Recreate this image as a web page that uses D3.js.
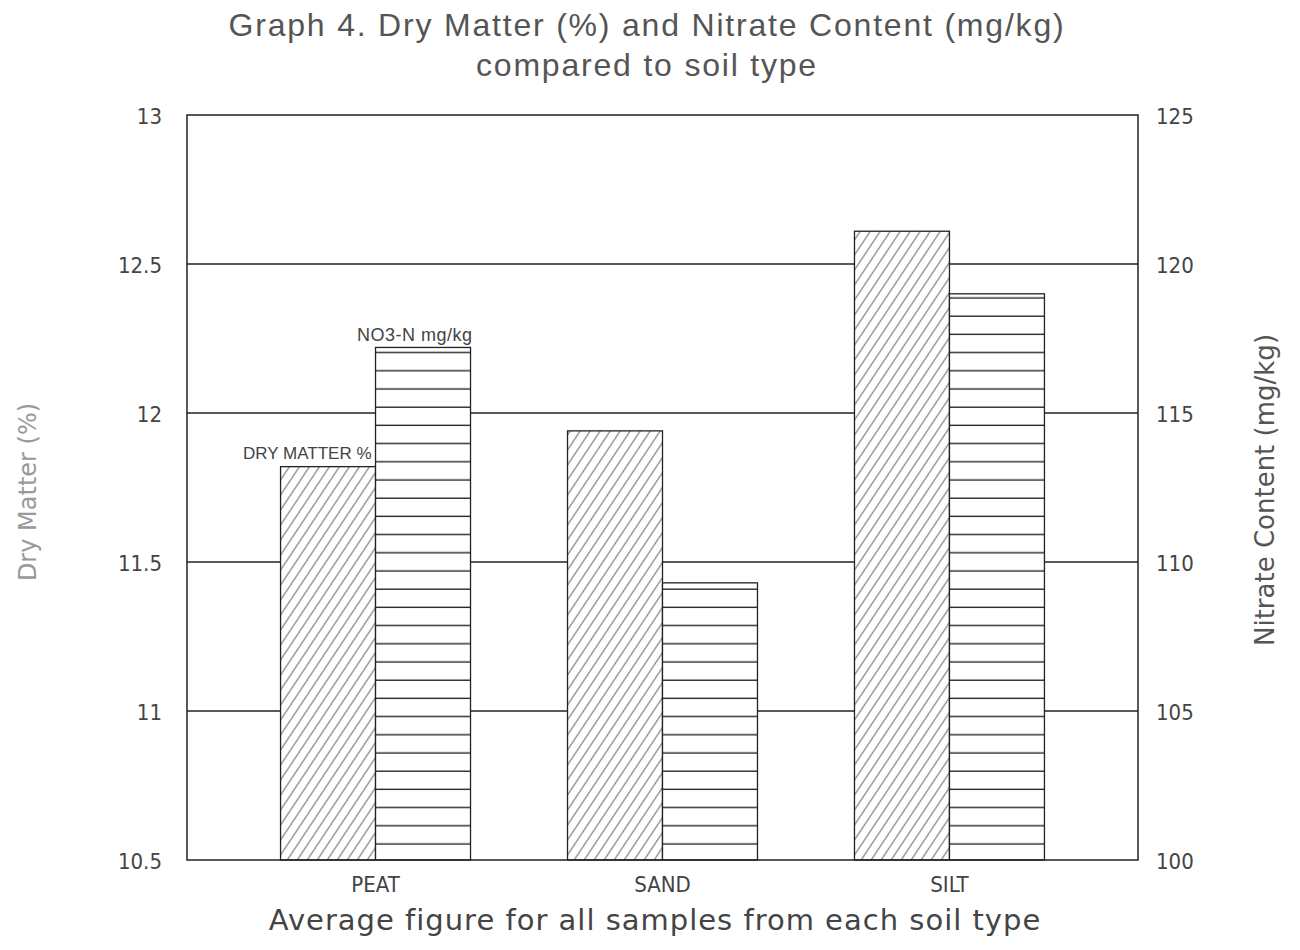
<!DOCTYPE html>
<meta charset="utf-8">
<script src="https://cdn.jsdelivr.net/npm/d3@7/dist/d3.min.js"></script>
<style>
body { margin: 0; background: #fff; }
svg text { font-family: "DejaVu Sans", sans-serif; fill: #444; }
.tick text { font-family: "Liberation Sans Narrow", "DejaVu Sans Condensed", sans-serif; }
</style>
<div id="chart"></div>
<script>
// data
const soils = ["PEAT", "SAND", "SILT"];
const dryMatter = [11.82, 11.94, 12.61];     // %
const nitrate = [117.2, 109.3, 119.0];       // mg/kg
const leftTicks = [10.5, 11, 11.5, 12, 12.5, 13];
const rightTicks = [100, 105, 110, 115, 120, 125];

const W = 1300, H = 950;
const plot = {left: 187, right: 1138, top: 115, bottom: 860};

const svg = d3.select("#chart").append("svg")
  .attr("width", W).attr("height", H);

// hatch patterns
const defs = svg.append("defs");
const diag = defs.append("pattern").attr("id", "diag")
  .attr("patternUnits", "userSpaceOnUse")
  .attr("width", 10).attr("height", 15);
diag.append("path").attr("d", "M-10,15 L0,0 M0,15 L10,0 M10,15 L20,0")
  .attr("stroke", "#333").attr("stroke-width", 0.9);

const horiz = defs.append("pattern").attr("id", "horiz")
  .attr("patternUnits", "userSpaceOnUse")
  .attr("x", 0).attr("y", plot.bottom)
  .attr("width", 20).attr("height", 18.2);
horiz.append("line").attr("x1", 0).attr("x2", 20).attr("y1", 2.2).attr("y2", 2.2)
  .attr("stroke", "#222").attr("stroke-width", 1.4);

// scales
const x = d3.scaleBand().domain(soils)
  .range([plot.left, plot.right]).paddingInner(0.338).paddingOuter(0.326);
const xSub = d3.scaleBand().domain(["dry", "no3"]).range([0, x.bandwidth()]);
const yL = d3.scaleLinear().domain([10.5, 13]).range([plot.bottom, plot.top]);
const yR = d3.scaleLinear().domain([100, 125]).range([plot.bottom, plot.top]);

// gridlines
svg.append("g").selectAll("line")
  .data(leftTicks.filter(d => d > 10.5 && d < 13))
  .join("line")
  .attr("x1", plot.left).attr("x2", plot.right)
  .attr("y1", d => yL(d)).attr("y2", d => yL(d))
  .attr("stroke", "#222").attr("stroke-width", 1.4);

// bars
const rows = soils.map((s, i) => ({soil: s, dry: dryMatter[i], no3: nitrate[i]}));
const g = svg.append("g").selectAll("g").data(rows).join("g")
  .attr("transform", d => `translate(${x(d.soil)},0)`);

g.append("rect")
  .attr("x", xSub("dry")).attr("width", xSub.bandwidth())
  .attr("y", d => yL(d.dry)).attr("height", d => plot.bottom - yL(d.dry))
  .attr("fill", "#fff");
g.append("rect")
  .attr("x", xSub("dry")).attr("width", xSub.bandwidth())
  .attr("y", d => yL(d.dry)).attr("height", d => plot.bottom - yL(d.dry))
  .attr("fill", "url(#diag)").attr("stroke", "#222").attr("stroke-width", 1.3);

g.append("rect")
  .attr("x", xSub("no3")).attr("width", xSub.bandwidth())
  .attr("y", d => yR(d.no3)).attr("height", d => plot.bottom - yR(d.no3))
  .attr("fill", "#fff");
g.append("rect")
  .attr("x", xSub("no3")).attr("width", xSub.bandwidth())
  .attr("y", d => yR(d.no3)).attr("height", d => plot.bottom - yR(d.no3))
  .attr("fill", "url(#horiz)").attr("stroke", "#222").attr("stroke-width", 1.3);

// frame
svg.append("rect")
  .attr("x", plot.left).attr("y", plot.top)
  .attr("width", plot.right - plot.left).attr("height", plot.bottom - plot.top)
  .attr("fill", "none").attr("stroke", "#222").attr("stroke-width", 1.5);

// axes
const axL = svg.append("g").attr("transform", `translate(${plot.left - 22},0)`)
  .call(d3.axisLeft(yL).tickValues(leftTicks).tickSize(0).tickFormat(d3.format("")));
const axR = svg.append("g").attr("transform", `translate(${plot.right + 15},0)`)
  .call(d3.axisRight(yR).tickValues(rightTicks).tickSize(0).tickFormat(d3.format("")));
[axL, axR].forEach(a => {
  a.select(".domain").remove();
  a.selectAll("text").attr("font-size", 22).attr("fill", "#444").attr("dy", "0.4em");
});

const axB = svg.append("g").attr("transform", `translate(0,${plot.bottom + 12})`)
  .call(d3.axisBottom(x).tickSize(0));
axB.select(".domain").remove();
axB.selectAll("text").attr("font-size", 22).attr("fill", "#444")
  .attr("dy", "0.75em");

// bar annotations on the PEAT pair
svg.append("text")
  .attr("x", x("PEAT") + xSub("dry") + xSub.bandwidth() - 4)
  .attr("y", yL(dryMatter[0]) - 8)
  .attr("text-anchor", "end").attr("font-size", 17)
  .style("font-family", "Liberation Sans Narrow, sans-serif")
  .text("DRY MATTER %");
svg.append("text")
  .attr("x", x("PEAT") + xSub("no3") + xSub.bandwidth() + 2)
  .attr("y", yR(nitrate[0]) - 6)
  .attr("text-anchor", "end").attr("font-size", 18).attr("letter-spacing", 0.5)
  .style("font-family", "Liberation Sans Narrow, sans-serif")
  .text("NO3-N mg/kg");

// titles
svg.append("text").attr("x", 647).attr("y", 36)
  .attr("text-anchor", "middle").attr("font-size", 32).attr("letter-spacing", 1.8)
  .style("font-family", "Liberation Sans Narrow, sans-serif").style("fill", "#555")
  .text("Graph 4. Dry Matter (%) and Nitrate Content (mg/kg)");
svg.append("text").attr("x", 647).attr("y", 76)
  .attr("text-anchor", "middle").attr("font-size", 32).attr("letter-spacing", 1.8)
  .style("font-family", "Liberation Sans Narrow, sans-serif").style("fill", "#555")
  .text("compared to soil type");

svg.append("text").attr("x", 655).attr("y", 930)
  .attr("text-anchor", "middle").attr("font-size", 29)
  .attr("letter-spacing", 1)
  .text("Average figure for all samples from each soil type");

svg.append("text")
  .attr("transform", "translate(36,492) rotate(-90)")
  .attr("text-anchor", "middle").attr("font-size", 24)
  .style("fill", "#999")
  .text("Dry Matter (%)");
svg.append("text")
  .attr("transform", "translate(1274,490) rotate(-90)")
  .attr("text-anchor", "middle").attr("font-size", 26)
  .style("fill", "#555")
  .text("Nitrate Content (mg/kg)");
</script>
